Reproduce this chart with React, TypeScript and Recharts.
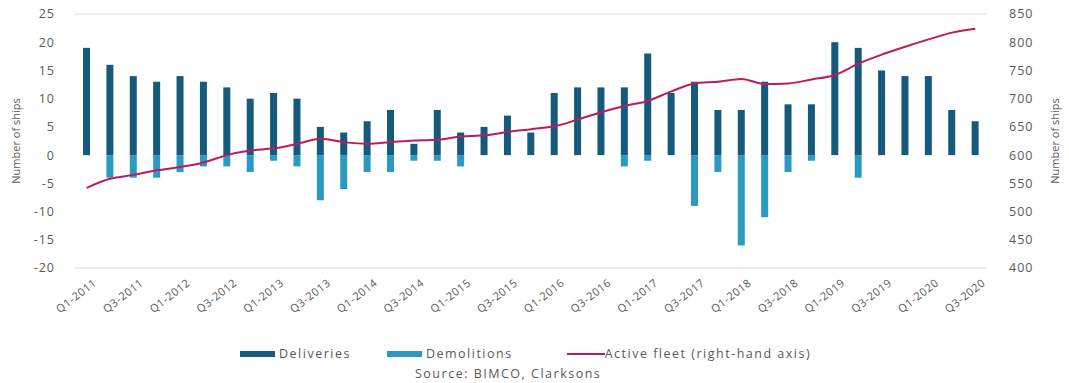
import React from 'react';
import {
    ComposedChart,
    Bar,
    Line,
    XAxis,
    YAxis,
    CartesianGrid,
    Legend
} from 'recharts';

const QUARTERS = [
    'Q1-2011', 'Q2-2011', 'Q3-2011', 'Q4-2011',
    'Q1-2012', 'Q2-2012', 'Q3-2012', 'Q4-2012',
    'Q1-2013', 'Q2-2013', 'Q3-2013', 'Q4-2013',
    'Q1-2014', 'Q2-2014', 'Q3-2014', 'Q4-2014',
    'Q1-2015', 'Q2-2015', 'Q3-2015', 'Q4-2015',
    'Q1-2016', 'Q2-2016', 'Q3-2016', 'Q4-2016',
    'Q1-2017', 'Q2-2017', 'Q3-2017', 'Q4-2017',
    'Q1-2018', 'Q2-2018', 'Q3-2018', 'Q4-2018',
    'Q1-2019', 'Q2-2019', 'Q3-2019', 'Q4-2019',
    'Q1-2020', 'Q2-2020', 'Q3-2020'
];

const DELIVERIES = [
    19, 16, 14, 13, 14, 13, 12, 10, 11, 10, 5, 4,
    6, 8, 2, 8, 4, 5, 7, 4, 11, 12, 12, 12,
    18, 11, 13, 8, 8, 13, 9, 9, 20, 19, 15, 14,
    14, 8, 6
];

const DEMOLITIONS = [
    0, -4, -4, -4, -3, -2, -2, -3, -1, -2, -8, -6,
    -3, -3, -1, -1, -2, 0, 0, 0, 0, 0, 0, -2,
    -1, 0, -9, -3, -16, -11, -3, -1, 0, -4, 0, 0,
    0, 0, 0
];

const ACTIVE_FLEET = [
    542, 558, 565, 573, 579, 587, 600, 608, 612, 620, 629, 623,
    620, 623, 626, 627, 633, 635, 641, 646, 651, 663, 676, 687,
    696, 713, 727, 730, 735, 726, 727, 734, 742, 762, 778, 792,
    805, 817, 824
];

const LEFT_TICKS = [-20, -15, -10, -5, 0, 5, 10, 15, 20, 25];
const RIGHT_TICKS = [400, 450, 500, 550, 600, 650, 700, 750, 800, 850];

const COLORS = {
    deliveries: '#155a7a',
    demolitions: '#2a9ac2',
    fleet: '#bf1a5e',
    grid: '#d9d9d9',
    text: '#595959'
};

const FONT = '"Open Sans", sans-serif';

const data = QUARTERS.map((q, i) => ({
    quarter: q,
    deliveries: DELIVERIES[i],
    demolitions: DEMOLITIONS[i],
    fleet: ACTIVE_FLEET[i]
}));

// legend drawn by hand so the swatches can be the wide Excel-style bars
const renderLegend = () => (
    <div
        style={{
            display: 'flex',
            justifyContent: 'flex-start',
            alignItems: 'center',
            fontFamily: FONT,
            fontSize: 12.5,
            letterSpacing: 1.5,
            color: COLORS.text
        }}
    >
        <span style={{ display: 'inline-block', width: 35, height: 6, background: COLORS.deliveries, marginRight: 4 }} />
        <span style={{ marginRight: 36 }}>Deliveries</span>
        <span style={{ display: 'inline-block', width: 35, height: 6, background: COLORS.demolitions, marginRight: 4 }} />
        <span style={{ marginRight: 54 }}>Demolitions</span>
        <span style={{ display: 'inline-block', width: 38, height: 2, background: COLORS.fleet }} />
        <span>Active fleet (right-hand axis)</span>
    </div>
);

export default function App() {
    return (
        <div style={{ position: 'absolute', left: 0, top: 0, width: 1069, height: 383, background: '#fff' }}>
            <ComposedChart
                width={1069}
                height={383}
                data={data}
                stackOffset="sign"
                margin={{ top: 14, right: 0, bottom: 28, left: 0 }}
            >
                <CartesianGrid vertical={false} stroke={COLORS.grid} />
                <XAxis
                    dataKey="quarter"
                    interval={1}
                    axisLine={false}
                    tickLine={false}
                    height={70}
                    angle={-38}
                    textAnchor="end"
                    tick={{ fill: COLORS.text, fontSize: 11, fontFamily: FONT, letterSpacing: 0.6, dx: 6, dy: 2 }}
                />
                <YAxis
                    yAxisId="left"
                    domain={[-20, 25]}
                    ticks={LEFT_TICKS}
                    axisLine={false}
                    tickLine={false}
                    width={75}
                    tick={{ fill: COLORS.text, fontSize: 12.5, fontFamily: FONT, letterSpacing: 1, dx: -12 }}
                    label={{
                        value: 'Number of ships',
                        angle: -90,
                        position: 'insideLeft',
                        offset: 16,
                        style: { fill: COLORS.text, fontSize: 11, fontFamily: FONT, textAnchor: 'middle' }
                    }}
                />
                <YAxis
                    yAxisId="right"
                    orientation="right"
                    domain={[400, 850]}
                    ticks={RIGHT_TICKS}
                    axisLine={false}
                    tickLine={false}
                    width={82}
                    tick={{ fill: COLORS.text, fontSize: 12.5, fontFamily: FONT, letterSpacing: 1, dx: 14 }}
                    label={{
                        value: 'Number of ships',
                        angle: -90,
                        position: 'insideRight',
                        offset: 14,
                        style: { fill: COLORS.text, fontSize: 11, fontFamily: FONT, textAnchor: 'middle' }
                    }}
                />
                <Legend
                    content={renderLegend}
                    wrapperStyle={{ position: 'absolute', top: 345, left: 240, width: 700 }}
                />
                <Bar
                    yAxisId="left"
                    dataKey="deliveries"
                    name="Deliveries"
                    stackId="a"
                    fill={COLORS.deliveries}
                    barSize={7}
                    isAnimationActive={false}
                />
                <Bar
                    yAxisId="left"
                    dataKey="demolitions"
                    name="Demolitions"
                    stackId="a"
                    fill={COLORS.demolitions}
                    barSize={7}
                    isAnimationActive={false}
                />
                <Line
                    yAxisId="right"
                    dataKey="fleet"
                    name="Active fleet (right-hand axis)"
                    type="monotone"
                    stroke={COLORS.fleet}
                    strokeWidth={2}
                    dot={false}
                    isAnimationActive={false}
                />
            </ComposedChart>
            <div
                style={{
                    position: 'absolute',
                    top: 365,
                    left: 415,
                    fontFamily: FONT,
                    fontSize: 12.5,
                    letterSpacing: 1.5,
                    color: COLORS.text,
                    whiteSpace: 'nowrap'
                }}
            >
                Source: BIMCO, Clarksons
            </div>
        </div>
    );
}
